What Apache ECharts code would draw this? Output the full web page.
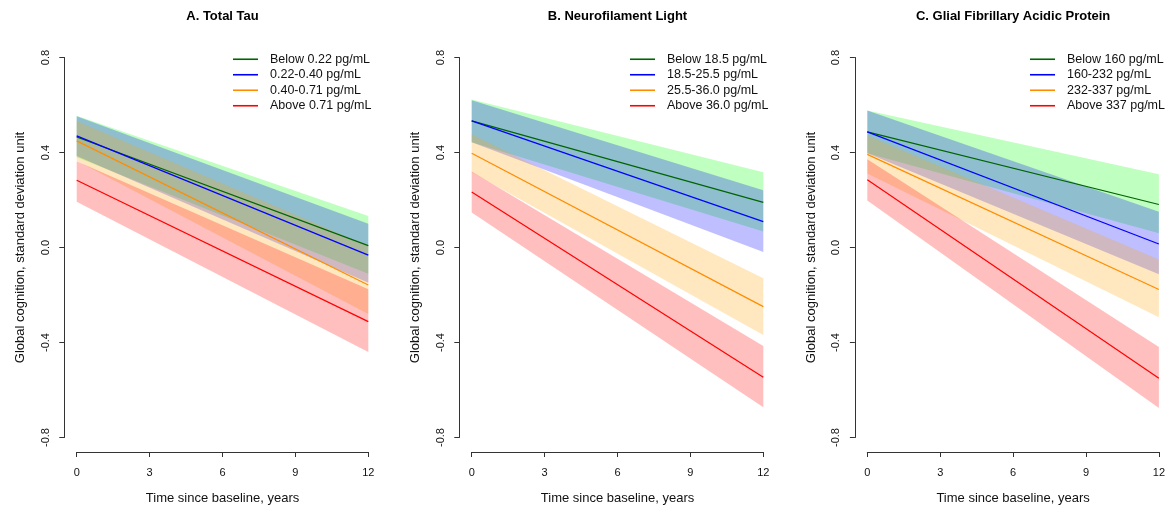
<!DOCTYPE html>
<html lang="en">
<head>
  <meta charset="UTF-8">
  <title>Global cognition by biomarker level</title>
  <style>
    body { margin: 0; background: #fff; }
    #main { width: 1175px; height: 510px; }
  </style>
</head>
<body>
<div id="main"></div>
<script type="text/javascript" src="https://fastly.jsdelivr.net/npm/echarts@6/dist/echarts.min.js"></script>
<script>
  // time points (years since baseline) where the fitted values were read
  var years = [0, 12];

  // A. Total Tau
  var tauTitle = 'A. Total Tau';
  var tauLabels = ['Below 0.22 pg/mL', '0.22-0.40 pg/mL', '0.40-0.71 pg/mL', 'Above 0.71 pg/mL'];
  var tauMean  = [[0.465, 0.008], [0.470, -0.032], [0.449, -0.158], [0.283, -0.312]];
  var tauLower = [[0.380, -0.110], [0.385, -0.148], [0.365, -0.280], [0.193, -0.440]];
  var tauUpper = [[0.555, 0.133], [0.553, 0.100], [0.533, 0.006], [0.363, -0.176]];

  // B. Neurofilament Light
  var nflTitle = 'B. Neurofilament Light';
  var nflLabels = ['Below 18.5 pg/mL', '18.5-25.5 pg/mL', '25.5-36.0 pg/mL', 'Above 36.0 pg/mL'];
  var nflMean  = [[0.533, 0.190], [0.533, 0.109], [0.397, -0.249], [0.234, -0.546]];
  var nflLower = [[0.443, 0.067], [0.443, -0.019], [0.317, -0.368], [0.147, -0.673]];
  var nflUpper = [[0.623, 0.317], [0.620, 0.241], [0.477, -0.129], [0.320, -0.415]];

  // C. Glial Fibrillary Acidic Protein
  var gfapTitle = 'C. Glial Fibrillary Acidic Protein';
  var gfapLabels = ['Below 160 pg/mL', '160-232 pg/mL', '232-337 pg/mL', 'Above 337 pg/mL'];
  var gfapMean  = [[0.487, 0.181], [0.487, 0.015], [0.392, -0.177], [0.285, -0.551]];
  var gfapLower = [[0.397, 0.060], [0.397, -0.113], [0.312, -0.294], [0.198, -0.676]];
  var gfapUpper = [[0.577, 0.308], [0.577, 0.151], [0.472, -0.051], [0.372, -0.419]];

  var xTicks = [0, 3, 6, 9, 12];
  var yTicks = [-0.8, -0.4, 0.0, 0.4, 0.8];

  var lineColors = ['#006400', '#0000ff', '#ff8c00', '#ff0000'];
  var bandColors = ['rgba(0,255,0,0.25)', 'rgba(0,0,255,0.25)', 'rgba(255,165,0,0.25)', 'rgba(255,0,0,0.25)'];

  var panels = [
    { title: tauTitle, labels: tauLabels, mean: tauMean, lower: tauLower, upper: tauUpper, left: 76.7, legendLeft: 233 },
    { title: nflTitle, labels: nflLabels, mean: nflMean, lower: nflLower, upper: nflUpper, left: 471.7, legendLeft: 630 },
    { title: gfapTitle, labels: gfapLabels, mean: gfapMean, lower: gfapLower, upper: gfapUpper, left: 867.3, legendLeft: 1030 }
  ];

  var font = 'Liberation Sans, Arial, Helvetica, sans-serif';
  var plotW = 291.6, plotTop = 57.5, plotH = 384;

  var chart = echarts.init(document.getElementById('main'));

  var grids = [], xAxes = [], yAxes = [], titles = [], legends = [], bands = [], lines = [];

  // confidence band as a filled polygon between lower and upper edges
  function bandItem(color) {
    return function (params, api) {
      var a = api.coord([api.value(0), api.value(1)]);
      var b = api.coord([api.value(0), api.value(2)]);
      var c = api.coord([api.value(3), api.value(5)]);
      var d = api.coord([api.value(3), api.value(4)]);
      return { type: 'polygon', shape: { points: [a, b, c, d] }, style: { fill: color } };
    };
  }

  panels.forEach(function (p, i) {
    grids.push({ left: p.left, top: plotTop, width: plotW, height: plotH, containLabel: false });
    titles.push({
      text: p.title, left: p.left + plotW / 2, top: 10, textAlign: 'center', padding: 0,
      textStyle: { fontFamily: font, fontSize: 13, fontWeight: 'bold', color: '#000' }
    });
    xAxes.push({
      type: 'value', gridIndex: i, min: xTicks[0], max: xTicks[xTicks.length - 1], interval: 3,
      offset: 14.5,
      name: 'Time since baseline, years', nameLocation: 'middle', nameGap: 40,
      nameTextStyle: { fontFamily: font, fontSize: 13, color: '#111' },
      axisLine: { show: true, onZero: false, lineStyle: { color: '#333', width: 1 } },
      axisTick: { show: true, length: 5, lineStyle: { color: '#333' } },
      axisLabel: { margin: 15, fontFamily: font, fontSize: 11, color: '#111' },
      splitLine: { show: false }
    });
    yAxes.push({
      type: 'value', gridIndex: i, min: yTicks[0], max: yTicks[yTicks.length - 1], interval: 0.4,
      offset: 12.4,
      name: 'Global cognition, standard deviation unit', nameLocation: 'middle', nameRotate: 90, nameGap: 37,
      nameTextStyle: { fontFamily: font, fontSize: 13, color: '#111' },
      axisLine: { show: true, onZero: false, lineStyle: { color: '#333', width: 1 } },
      axisTick: { show: true, length: 5, lineStyle: { color: '#333' } },
      axisLabel: {
        margin: 13, rotate: 90, fontFamily: font, fontSize: 11, color: '#111',
        formatter: function (v) { return Math.abs(v) < 1e-9 ? '0.0' : v.toFixed(1); }
      },
      splitLine: { show: false }
    });
    legends.push({
      data: p.labels, orient: 'vertical', left: p.legendLeft, top: 51.5, padding: 0,
      icon: 'rect', itemWidth: 25, itemHeight: 1.6, itemGap: 0,
      textStyle: { fontFamily: font, fontSize: 12.5, color: '#111', lineHeight: 15.5, padding: [0, 0, 0, 7] }
    });

    p.labels.forEach(function (lab, j) {
      bands.push({
        type: 'custom', xAxisIndex: i, yAxisIndex: i, silent: true,
        renderItem: bandItem(bandColors[j]),
        encode: { x: [0, 3], y: [1, 2, 4, 5] },
        data: [[years[0], p.lower[j][0], p.upper[j][0], years[1], p.lower[j][1], p.upper[j][1]]]
      });
      lines.push({
        name: lab, type: 'line', xAxisIndex: i, yAxisIndex: i, symbol: 'none',
        lineStyle: { color: lineColors[j], width: 1.2 },
        itemStyle: { color: lineColors[j] },
        data: years.map(function (t, k) { return [t, p.mean[j][k]]; })
      });
    });
  });

  chart.setOption({
    animation: false,
    backgroundColor: '#fff',
    title: titles,
    legend: legends,
    grid: grids,
    xAxis: xAxes,
    yAxis: yAxes,
    series: bands.concat(lines)
  });
</script>
</body>
</html>
